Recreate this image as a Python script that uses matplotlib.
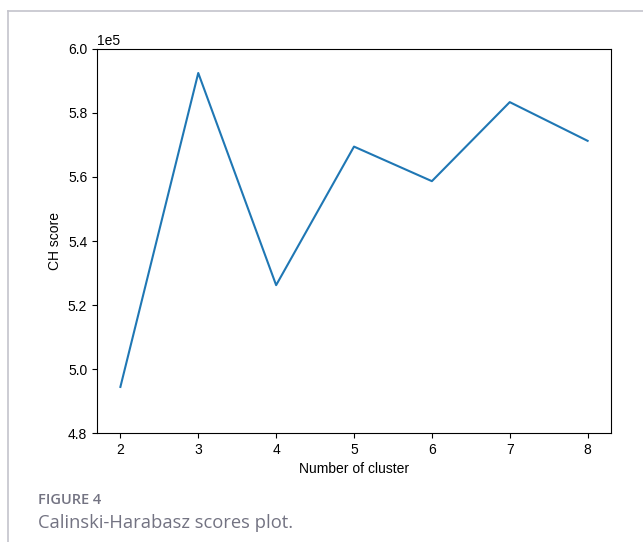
import matplotlib
matplotlib.use("Agg")
import matplotlib.pyplot as plt
from matplotlib.lines import Line2D

plt.rcParams["font.family"] = ["Liberation Sans", "DejaVu Sans"]

# Calinski-Harabasz score for each candidate number of clusters
n_clusters = [2, 3, 4, 5, 6, 7, 8]
ch_scores = [494400, 592500, 526200, 569500, 558700, 583400, 571300]

fig = plt.figure(figsize=(6.43, 5.42), dpi=100)
ax = fig.add_axes([0.1509, 0.2011, 0.7993, 0.7085])

ax.plot(n_clusters, ch_scores, color="#1f77b4", linewidth=1.5)
ax.set_ylim(480000, 600000)
ax.ticklabel_format(axis="y", style="sci", scilimits=(0, 0))
ax.set_xlabel("Number of cluster")
ax.set_ylabel("CH score")

# page frame lines around the figure panel
frame_color = "#c4c4cc"
fig.add_artist(Line2D([8 / 643, 1.0], [1 - 11 / 542, 1 - 11 / 542],
                      transform=fig.transFigure, color=frame_color, linewidth=1.2))
fig.add_artist(Line2D([8 / 643, 8 / 643], [0.0, 1 - 11 / 542],
                      transform=fig.transFigure, color=frame_color, linewidth=1.2))

# caption
fig.text(38 / 643, 1 - 500 / 542, "FIGURE 4", family="Open Sans", weight="semibold",
         fontsize=10.5, color="#737382", va="center", ha="left")
fig.text(38 / 643, 1 - 523 / 542, "Calinski-Harabasz scores plot.", family="Open Sans",
         fontsize=13.2, color="#737382", va="center", ha="left")

fig.savefig("out.png", dpi=100)
